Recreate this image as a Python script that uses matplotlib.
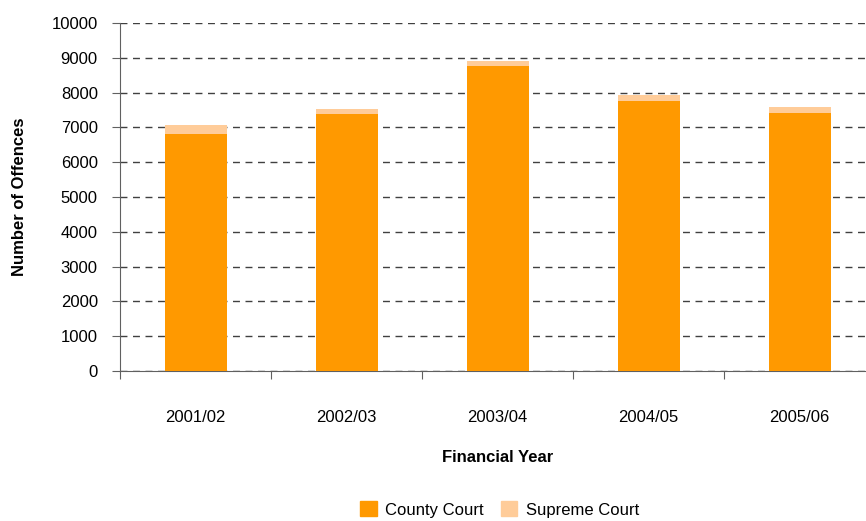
import matplotlib
matplotlib.use("Agg")
import matplotlib.pyplot as plt
from matplotlib.patches import Patch

plt.rcParams["font.family"] = ["Liberation Sans Narrow", "Liberation Sans", "DejaVu Sans"]

years = ["2001/02", "2002/03", "2003/04", "2004/05", "2005/06"]
county = [6810, 7385, 8765, 7760, 7415]
supreme = [260, 145, 145, 170, 170]

fig = plt.figure(figsize=(8.66, 5.21), dpi=100)
ax = fig.add_axes([0.1386, 0.2879, 0.872, 0.668])

x = range(len(years))
ax.bar(x, county, width=0.41, color="#FF9900", zorder=3, label="County Court")
ax.bar(x, supreme, width=0.41, bottom=county, color="#FFCC99", zorder=3, label="Supreme Court")

ax.set_xlim(-0.5, 4.5)
ax.set_ylim(0, 10000)
ax.set_yticks(range(0, 10001, 1000))
ax.yaxis.grid(True, linestyle=(0, (5, 4)), color="#404040", linewidth=1.0, zorder=0)

# category boundaries get the tick marks, labels sit at the centres
ax.set_xticks([i - 0.5 for i in range(len(years))])
ax.set_xticklabels([])
ax.set_xticks(list(x), minor=True)
ax.set_xticklabels(years, minor=True, fontsize=12)
ax.tick_params(axis="x", which="minor", length=0, pad=28)
ax.tick_params(axis="x", which="major", length=6, color="#606060")
ax.tick_params(axis="y", length=6, color="#606060", labelsize=12, pad=10)

for side in ["top", "right"]:
    ax.spines[side].set_visible(False)
ax.spines["left"].set_color("#606060")
ax.spines["bottom"].set_color("#606060")

ax.set_ylabel("Number of Offences", fontsize=12, fontweight="bold", labelpad=18)
fig.text(0.575, 0.121, "Financial Year", ha="center", va="center", fontsize=12, fontweight="bold")

handles = [Patch(color="#FF9900", label="County Court"), Patch(color="#FFCC99", label="Supreme Court")]
fig.legend(handles=handles, loc="center", bbox_to_anchor=(0.577, 0.022), ncol=2, frameon=False,
           fontsize=12, handlelength=1.0, handleheight=1.0, columnspacing=1.0, handletextpad=0.5)

fig.savefig("out.png", dpi=100)
